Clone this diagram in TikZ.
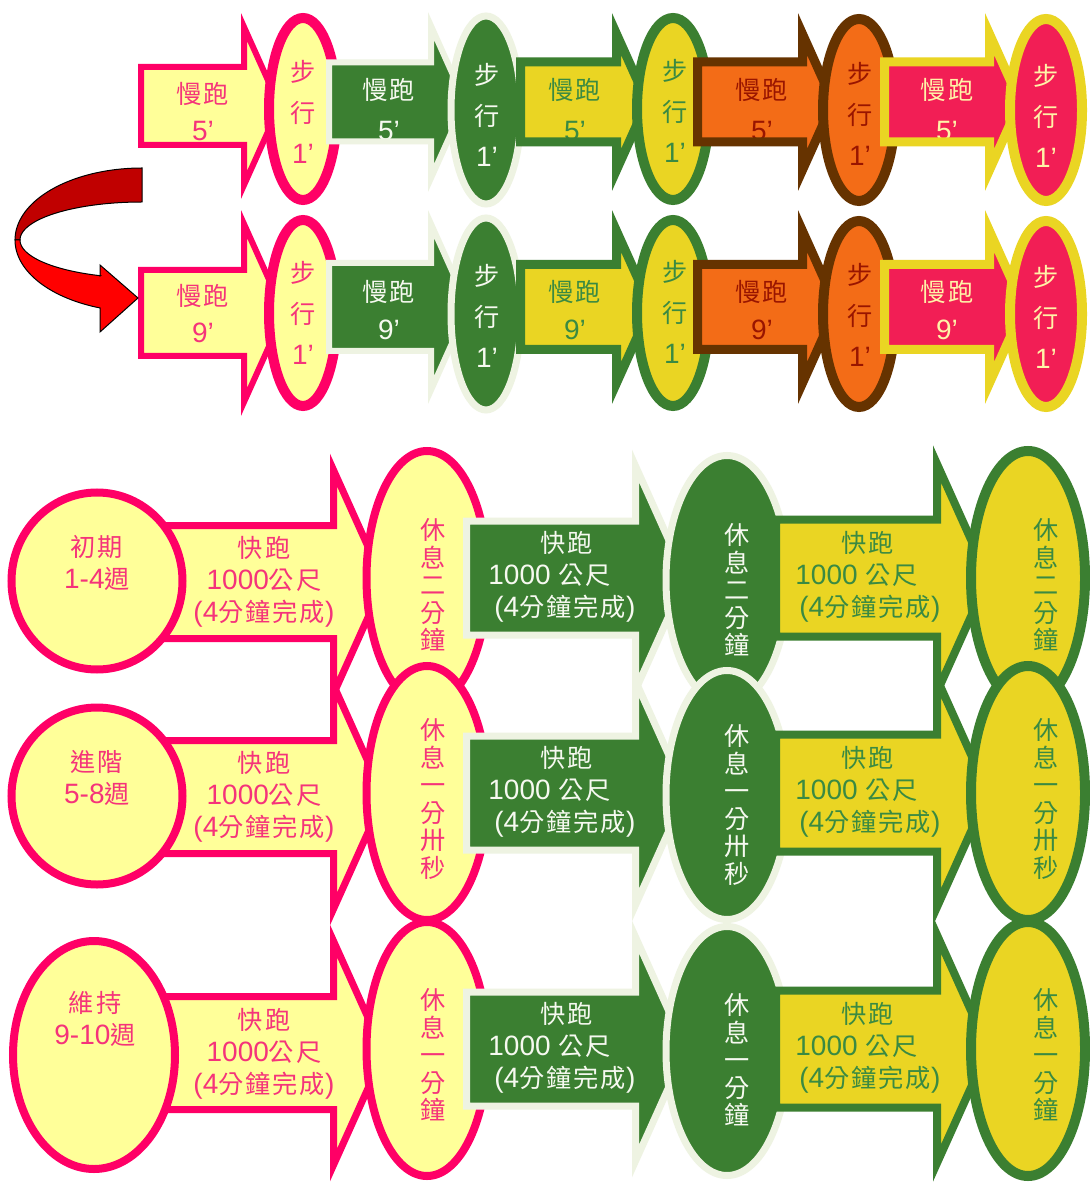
\documentclass[tikz,border=0pt]{standalone}
\usepackage{fontspec}
\setmainfont{Liberation Sans}
\newfontfamily\cjk[Scale=0.9,LetterSpace=8]{Noto Sans CJK TC}
\newcommand\zh[1]{{\cjk #1}}
\definecolor{pk}{HTML}{FF0066}
\definecolor{pkt}{HTML}{F5337A}
\definecolor{ly}{HTML}{FFFF99}
\definecolor{gr}{HTML}{3B7F31}
\definecolor{cr}{HTML}{EEF3E2}
\definecolor{wt}{HTML}{F6F9F0}
\definecolor{yl}{HTML}{EAD523}
\definecolor{ygt}{HTML}{3A8A42}
\definecolor{og}{HTML}{F36C17}
\definecolor{bn}{HTML}{663300}
\definecolor{ogt}{HTML}{991500}
\definecolor{crimC}{HTML}{F21E55}
\definecolor{crimT}{HTML}{FFF3A8}
\definecolor{rd}{HTML}{C00000}
\definecolor{rl}{HTML}{FF0000}
\newcommand\arrp[5]{(#1,{#3-#4}) -- (#2,{#3-#4}) -- (#2,{#3-#5}) -- ({#2+0.45*#5},#3) -- (#2,{#3+#5}) -- (#2,{#3+#4}) -- (#1,{#3+#4}) -- cycle}
\tikzset{
  tl/.style={inner sep=0pt, font=\fontsize{14}{16}\selectfont},
  vt/.style={inner sep=0pt, align=center, font=\fontsize{14}{20.5}\selectfont},
  bt/.style={inner sep=0pt, align=center, font=\fontsize{14}{16}\selectfont},
  bl/.style={inner sep=0pt, align=left, anchor=west, font=\fontsize{14}{16}\selectfont},
  vs/.style={inner sep=0pt, align=center, font=\fontsize{14}{13.75}\selectfont\cjk},
  sPk/.style={draw=pk, line width=3pt},
  sCr/.style={draw=cr, line width=3pt},
  sGr/.style={draw=gr, line width=4.5pt},
  sBn/.style={draw=bn, line width=4.5pt},
  sYl/.style={draw=yl, line width=4.5pt},
}
\begin{document}
\begin{tikzpicture}[x=0.5pt,y=-0.5pt,line join=miter]
\useasboundingbox[fill=white] (0,0) rectangle (1089,1186);
% ================= TOP SECTION =================
% --- column 1 (pink) ---
\fill[ly] \arrp{141}{244}{106}{39}{79};
\node[tl,text=pkt] (a1r1a) at (203,94) {\zh{慢跑}};
\node[tl,text=pkt,anchor=base] (a1r1b) at (203,141) {5’};
\path[sPk] \arrp{141}{244}{106}{39}{79};
\fill[ly] \arrp{141}{244}{313}{43}{89};
\node[tl,text=pkt] (a1r2a) at (203,296) {\zh{慢跑}};
\node[tl,text=pkt,anchor=base] (a1r2b) at (203,343) {9’};
\path[sPk] \arrp{141}{244}{313}{43}{89};
\draw[pk,line width=5pt,fill=ly] (303,109) ellipse [x radius=34, y radius=91];
\node[vt,text=pkt] (e1r1) at (303,112) {\zh{步}\\\zh{行}\\1’};
\draw[pk,line width=5pt,fill=ly] (303,313) ellipse [x radius=34, y radius=93];
\node[vt,text=pkt] (e1r2) at (303,313) {\zh{步}\\\zh{行}\\1’};
% --- column 2 (green) ---
\fill[gr] \arrp{329}{431}{102}{39.5}{76};
\node[tl,text=wt] (a2r1a) at (389,90) {\zh{慢跑}};
\node[tl,text=wt,anchor=base] (a2r1b) at (389,141) {5’};
\path[sCr] \arrp{329}{431}{102}{39.5}{76};
\fill[gr] \arrp{329}{431}{307}{44}{83};
\node[tl,text=wt] (a2r2a) at (389,292) {\zh{慢跑}};
\node[tl,text=wt,anchor=base] (a2r2b) at (389,340) {9’};
\path[sCr] \arrp{329}{431}{307}{44}{83};
\draw[cr,line width=3.5pt,fill=gr] (486,110) ellipse [x radius=35, y radius=94];
\node[vt,text=wt] (e2r1) at (487,115) {\zh{步}\\\zh{行}\\1’};
\draw[cr,line width=3.5pt,fill=gr] (486,314) ellipse [x radius=35, y radius=96];
\node[vt,text=wt] (e2r2) at (487,316) {\zh{步}\\\zh{行}\\1’};
% --- column 3 (yellow) ---
\fill[yl] \arrp{520.5}{616.5}{102}{40}{68};
\node[tl,text=ygt] (a3r1a) at (575,90) {\zh{慢跑}};
\node[tl,text=ygt,anchor=base] (a3r1b) at (575,141) {5’};
\path[sGr] \arrp{520.5}{616.5}{102}{40}{68};
\fill[yl] \arrp{520.5}{616.5}{307}{42.5}{76};
\node[tl,text=ygt] (a3r2a) at (575,292) {\zh{慢跑}};
\node[tl,text=ygt,anchor=base] (a3r2b) at (575,340) {9’};
\path[sGr] \arrp{520.5}{616.5}{307}{42.5}{76};
\draw[gr,line width=5pt,fill=yl] (673,109) ellipse [x radius=36, y radius=91];
\node[vt,text=ygt] (e3r1) at (675,111) {\zh{步}\\\zh{行}\\1’};
\draw[gr,line width=5pt,fill=yl] (673,313) ellipse [x radius=36, y radius=93];
\node[vt,text=ygt] (e3r2) at (675,312) {\zh{步}\\\zh{行}\\1’};
% --- column 4 (orange) ---
\fill[og] \arrp{697.5}{802.5}{102}{40}{68};
\node[tl,text=ogt] (a4r1a) at (762,90) {\zh{慢跑}};
\node[tl,text=ogt,anchor=base] (a4r1b) at (762,141) {5’};
\path[sBn] \arrp{697.5}{802.5}{102}{40}{68};
\fill[og] \arrp{697.5}{802.5}{307}{42.5}{76};
\node[tl,text=ogt] (a4r2a) at (762,292) {\zh{慢跑}};
\node[tl,text=ogt,anchor=base] (a4r2b) at (762,340) {9’};
\path[sBn] \arrp{697.5}{802.5}{307}{42.5}{76};
\draw[bn,line width=5pt,fill=og] (859,110) ellipse [x radius=36, y radius=91];
\node[vt,text=ogt] (e4r1) at (860,114) {\zh{步}\\\zh{行}\\1’};
\draw[bn,line width=5pt,fill=og] (859,314) ellipse [x radius=36, y radius=93];
\node[vt,text=ogt] (e4r2) at (860,315) {\zh{步}\\\zh{行}\\1’};
% --- column 5 (crimson) ---
\fill[crimC] \arrp{884.5}{989.5}{102}{40}{68};
\node[tl,text=crimT] (a5r1a) at (947,90) {\zh{慢跑}};
\node[tl,text=crimT,anchor=base] (a5r1b) at (947,141) {5’};
\path[sYl] \arrp{884.5}{989.5}{102}{40}{68};
\fill[crimC] \arrp{884.5}{989.5}{307}{42.5}{76};
\node[tl,text=crimT] (a5r2a) at (947,292) {\zh{慢跑}};
\node[tl,text=crimT,anchor=base] (a5r2b) at (947,340) {9’};
\path[sYl] \arrp{884.5}{989.5}{307}{42.5}{76};
\draw[yl,line width=5pt,fill=crimC] (1046,110) ellipse [x radius=36, y radius=91];
\node[vt,text=crimT] (e5r1) at (1046,116) {\zh{步}\\\zh{行}\\1’};
\draw[yl,line width=5pt,fill=crimC] (1046,314) ellipse [x radius=36, y radius=93];
\node[vt,text=crimT] (e5r2) at (1046,317) {\zh{步}\\\zh{行}\\1’};
% --- red curved arrow ---
\filldraw[fill=rd,draw=black,line width=0.5pt]
  plot[domain=90:180,samples=40] ({142+127*cos(\x)},{240-72*sin(\x)})
  -- plot[domain=180:90,samples=40] ({142+122*cos(\x)},{240-38*sin(\x)}) -- cycle;
\filldraw[fill=rl,draw=black,line width=0.5pt]
  plot[domain=180:250.7,samples=40] ({142+127*cos(\x)},{240-72*sin(\x)})
  -- (100,332) -- (138,298) -- (100,265) -- (100,276)
  -- plot[domain=250.1:180,samples=40] ({142+122*cos(\x)},{240-38*sin(\x)}) -- cycle;
% ================= BOTTOM SECTION =================
% --- pink arrows ---
\fill[ly] \arrp{153.5}{333.5}{582}{56.5}{112};
\node[bt,text=pkt] (b1r1) at (264,582) {\zh{快跑}\\1000\zh{公尺}\\(4\zh{分鐘完成})};
\path[draw=pk,line width=3.5pt] \arrp{153.5}{333.5}{582}{56.5}{112};
\fill[ly] \arrp{153.5}{333.5}{797}{56.5}{112};
\node[bt,text=pkt] (b1r2) at (264,797) {\zh{快跑}\\1000\zh{公尺}\\(4\zh{分鐘完成})};
\path[draw=pk,line width=3.5pt] \arrp{153.5}{333.5}{797}{56.5}{112};
\fill[ly] \arrp{153.5}{333.5}{1053}{56.5}{112};
\node[bt,text=pkt] (b1r3) at (264,1054) {\zh{快跑}\\1000\zh{公尺}\\(4\zh{分鐘完成})};
\path[draw=pk,line width=3.5pt] \arrp{153.5}{333.5}{1053}{56.5}{112};
% --- circles ---
\draw[pk,line width=4pt,fill=ly] (97,581) ellipse [x radius=85.5, y radius=88.5];
\node[bt,text=pkt] (c1) at (97,563) {\zh{初期}\\1-4\zh{週}};
\draw[pk,line width=4pt,fill=ly] (97,796) ellipse [x radius=85.5, y radius=88.5];
\node[bt,text=pkt] (c2) at (97,778) {\zh{進階}\\5-8\zh{週}};
\draw[pk,line width=4pt,fill=ly] (94,1055) ellipse [x radius=81, y radius=114];
\node[bt,text=pkt] (c3) at (95,1019) {\zh{維持}\\9-10\zh{週}};
% --- pink ellipses ---
\draw[pk,line width=4pt,fill=ly] (427,578) ellipse [x radius=60.5, y radius=127];
\node[vs,text=pkt] (d1) at (433,585) {休\\息\\二\\分\\鐘};
\draw[pk,line width=4pt,fill=ly] (427,793) ellipse [x radius=60.5, y radius=127];
\node[vs,text=pkt] (d2) at (433,799) {休\\息\\一\\分\\卅\\秒};
\draw[pk,line width=4pt,fill=ly] (427,1049) ellipse [x radius=60.5, y radius=127];
\node[vs,text=pkt] (d3) at (433,1055) {休\\息\\一\\分\\鐘};
% --- green arrows ---
\fill[gr] \arrp{466.5}{635.5}{578}{57}{112};
\node[bl,text=wt] (b2r1) at (488,577) {\hspace*{26pt}\zh{快跑}\\1000 \zh{公尺}\\\hspace*{3pt}(4\zh{分鐘完成})};
\path[draw=cr,line width=3.5pt] \arrp{466.5}{635.5}{578}{57}{112};
\fill[gr] \arrp{466.5}{635.5}{793}{57}{112};
\node[bl,text=wt] (b2r2) at (488,792) {\hspace*{26pt}\zh{快跑}\\1000 \zh{公尺}\\\hspace*{3pt}(4\zh{分鐘完成})};
\path[draw=cr,line width=3.5pt] \arrp{466.5}{635.5}{793}{57}{112};
\fill[gr] \arrp{466.5}{635.5}{1049}{57}{112};
\node[bl,text=wt] (b2r3) at (488,1048) {\hspace*{26pt}\zh{快跑}\\1000 \zh{公尺}\\\hspace*{3pt}(4\zh{分鐘完成})};
\path[draw=cr,line width=3.5pt] \arrp{466.5}{635.5}{1049}{57}{112};
% --- green ellipses ---
\draw[cr,line width=3.5pt,fill=gr] (727,580) ellipse [x radius=61, y radius=124.5];
\node[vs,text=wt] (g1) at (737,590) {休\\息\\二\\分\\鐘};
\draw[cr,line width=3.5pt,fill=gr] (727,795) ellipse [x radius=61, y radius=124.5];
\node[vs,text=wt] (g2) at (737,805) {休\\息\\一\\分\\卅\\秒};
\draw[cr,line width=3.5pt,fill=gr] (727,1051) ellipse [x radius=61, y radius=124.5];
\node[vs,text=wt] (g3) at (737,1060) {休\\息\\一\\分\\鐘};
% --- yellow arrows ---
\fill[yl] \arrp{776}{937}{578}{58.5}{114};
\node[bl,text=ygt] (b3r1) at (795,577) {\hspace*{23pt}\zh{快跑}\\1000 \zh{公尺}\\\hspace*{2pt}(4\zh{分鐘完成})};
\path[draw=gr,line width=4pt] \arrp{776}{937}{578}{58.5}{114};
\fill[yl] \arrp{776}{937}{793}{58.5}{114};
\node[bl,text=ygt] (b3r2) at (795,792) {\hspace*{23pt}\zh{快跑}\\1000 \zh{公尺}\\\hspace*{2pt}(4\zh{分鐘完成})};
\path[draw=gr,line width=4pt] \arrp{776}{937}{793}{58.5}{114};
\fill[yl] \arrp{776}{937}{1049}{58.5}{114};
\node[bl,text=ygt] (b3r3) at (795,1048) {\hspace*{23pt}\zh{快跑}\\1000 \zh{公尺}\\\hspace*{2pt}(4\zh{分鐘完成})};
\path[draw=gr,line width=4pt] \arrp{776}{937}{1049}{58.5}{114};
% --- yellow ellipses ---
\draw[gr,line width=5pt,fill=yl] (1028,578) ellipse [x radius=57, y radius=127];
\node[vs,text=ygt] (f1) at (1046,585) {休\\息\\二\\分\\鐘};
\draw[gr,line width=5pt,fill=yl] (1028,793) ellipse [x radius=57, y radius=127];
\node[vs,text=ygt] (f2) at (1046,799) {休\\息\\一\\分\\卅\\秒};
\draw[gr,line width=5pt,fill=yl] (1028,1049) ellipse [x radius=57, y radius=127];
\node[vs,text=ygt] (f3) at (1046,1055) {休\\息\\一\\分\\鐘};
\end{tikzpicture}
\end{document}
